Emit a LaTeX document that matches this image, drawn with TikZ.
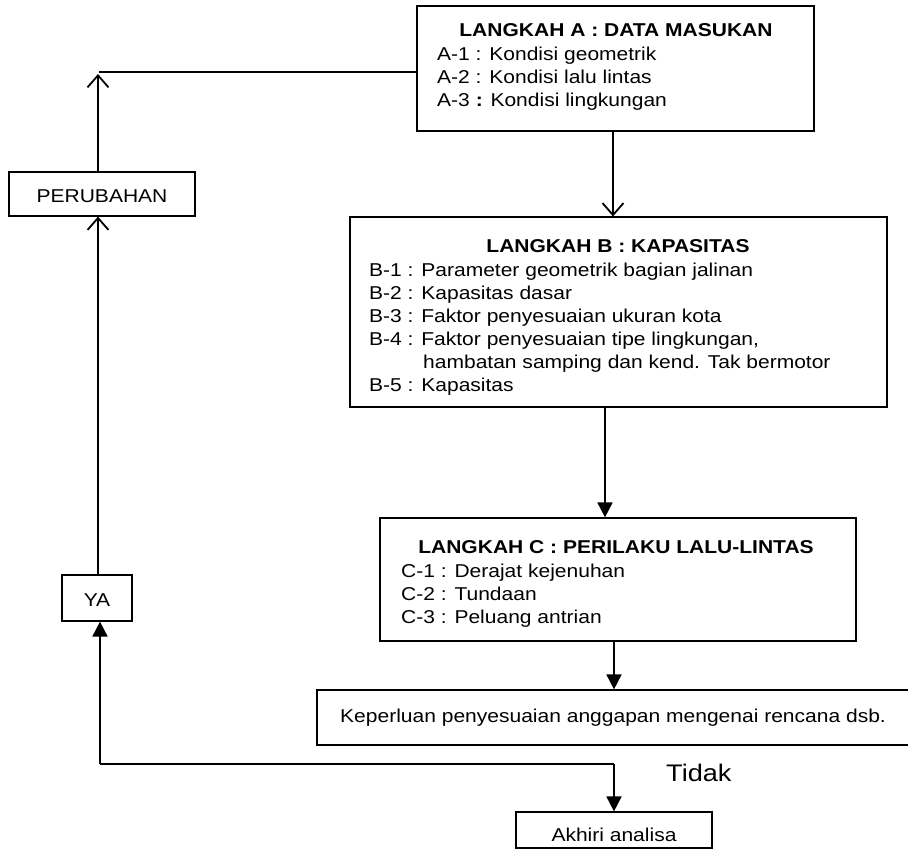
\documentclass[tikz,border=0pt]{standalone}
\usepackage{fontspec}
\setmainfont{Liberation Sans}[FakeStretch=1.13]
\usetikzlibrary{arrows.meta}
\begin{document}
\begin{tikzpicture}[x=1pt,y=-1pt,
  box/.style={draw, line width=1.2pt, inner sep=0pt},
  txt/.style={anchor=base west, inner sep=0pt, font=\fontsize{18.6}{22}\selectfont},
  ttl/.style={anchor=base, inner sep=0pt, font=\fontsize{18.6}{22}\selectfont\bfseries},
  ctxt/.style={anchor=base, inner sep=0pt, font=\fontsize{18.6}{22}\selectfont},
  oarr/.style={line width=1.8pt, -{Straight Barb[length=12pt,width=21pt,line width=1.8pt]}},
  farr/.style={line width=1.8pt, -{Triangle[length=15pt,width=15pt]}},
  thinline/.style={line width=1.1pt}]
\useasboundingbox (0,0) rectangle (908,856);
% boxes
\node[box, minimum width=397pt, minimum height=125pt] (A) at (615.5,68.5) {};
\node[box, minimum width=537pt, minimum height=190pt] (B) at (618.5,312) {};
\node[box, minimum width=476pt, minimum height=123pt] (C) at (618,579.5) {};
\node[box, minimum width=595pt, minimum height=55pt] (K) at (614.5,717.5) {};
\node[box, minimum width=196pt, minimum height=36pt] (E) at (614,830) {};
\node[box, minimum width=186pt, minimum height=44pt] (P) at (102,194) {};
\node[box, minimum width=70pt, minimum height=46pt] (Y) at (97,598) {};
% texts A
\node[ttl] (At) at (616,37) {LANGKAH A : DATA MASUKAN};
\node[txt] (A1) at (437,61) {A-1 : Kondisi geometrik};
\node[txt] (A2) at (437,84) {A-2 : Kondisi lalu lintas};
\node[txt] (A3) at (437,107) {A-3 \textbf{:} Kondisi lingkungan};
% texts B
\node[ttl] (Bt) at (618,252) {LANGKAH B : KAPASITAS};
\node[txt] (B1) at (369,276) {B-1 : Parameter geometrik bagian jalinan};
\node[txt] (B2) at (369,299) {B-2 : Kapasitas dasar};
\node[txt] (B3) at (369,322) {B-3 : Faktor penyesuaian ukuran kota};
\node[txt] (B4) at (369,345) {B-4 : Faktor penyesuaian tipe lingkungan,};
\node[txt] (B4b) at (423,368) {hambatan samping dan kend. Tak bermotor};
\node[txt] (B5) at (369,391) {B-5 : Kapasitas};
% texts C
\node[ttl] (Ct) at (616,553) {LANGKAH C : PERILAKU LALU-LINTAS};
\node[txt] (C1) at (401,577) {C-1 : Derajat kejenuhan};
\node[txt] (C2) at (401,600) {C-2 : Tundaan};
\node[txt] (C3) at (401,623) {C-3 : Peluang antrian};
% other texts
\node[txt] (Kt) at (340,722) {Keperluan penyesuaian anggapan mengenai rencana dsb.};
\node[ctxt] (Et) at (614,841) {Akhiri analisa};
\node[ctxt] (Pt) at (102,202) {PERUBAHAN};
\node[ctxt] (Yt) at (97,606) {YA};
\node[anchor=base west, inner sep=0pt, font=\fontsize{24}{28}\selectfont] (Tt) at (666,781) {Tidak};
% connectors
\draw[oarr] ([xshift=-2.5pt]A.south) -- ([xshift=-2.5pt]A.south |- B.north);
\draw[farr] ([xshift=-13.5pt]B.south) -- ([xshift=-13.5pt]B.south |- C.north);
\draw[farr] ([xshift=-4pt]C.south) -- ([xshift=-4pt]C.south |- K.north);
\coordinate (tl) at (100,764);
\coordinate (tj) at (614,764);
\coordinate (tp) at (98,74);
\coordinate (th) at (99,72);
\draw[thinline] (tl) -- (tj);
\draw[farr] (tj) -- (tj |- E.north);
\draw[farr] (tl) -- (tl |- Y.south);
\draw[oarr] ([xshift=1pt]Y.north) -- ([xshift=1pt]Y.north |- P.south);
\draw[oarr] (tp |- P.north) -- (tp);
\draw[thinline] (th) -- (A.west |- th);
\end{tikzpicture}
\end{document}
